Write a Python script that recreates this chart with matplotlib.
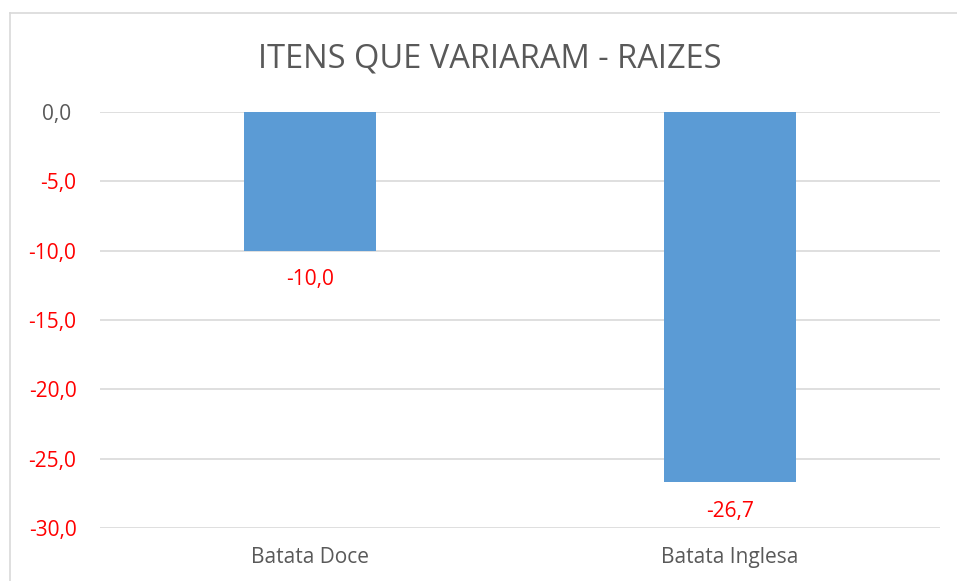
import matplotlib
matplotlib.use("Agg")
import matplotlib.pyplot as plt
from matplotlib.lines import Line2D

categories = ["Batata Doce", "Batata Inglesa"]
values = [-10.0, -26.7]
yticks = [0, -5, -10, -15, -20, -25, -30]

def fmt(v):
    s = f"{abs(v):.1f}".replace(".", ",")
    return ("-" + s) if v < 0 else (s + " ")

plt.rcParams['font.family'] = ['Open Sans', 'DejaVu Sans']

W, H = 957, 581
fig = plt.figure(figsize=(W / 100, H / 100), dpi=100)
ax = fig.add_axes([100 / W, 1 - 528 / H, 840 / W, 416 / H])

x = list(range(len(categories)))
bars = ax.bar(x, values, width=0.315, color="#5B9BD5", zorder=3)

ax.set_xlim(-0.5, len(categories) - 0.5)
ax.set_ylim(-30, 0)
ax.set_yticks(yticks)
ax.set_yticklabels([fmt(v) for v in yticks])
for lbl, v in zip(ax.get_yticklabels(), yticks):
    lbl.set_color("#FF0000" if v < 0 else "#595959")
    lbl.set_fontsize(15)
ax.tick_params(axis='y', length=0, pad=17)
ax.set_xticks(x)
ax.set_xticklabels(categories, fontsize=15, color="#595959")
ax.tick_params(axis='x', length=0, pad=14)

ax.grid(axis='y', color="#D9D9D9", linewidth=1.2, zorder=0)
ax.set_axisbelow(True)
for s in ax.spines.values():
    s.set_visible(False)

for xi, v in zip(x, values):
    ax.annotate(fmt(v), xy=(xi, v), xytext=(0, -21), textcoords="offset points",
                ha="center", va="center", color="#FF0000", fontsize=15)

fig.text(490 / W, 1 - 59 / H, "ITENS QUE VARIARAM - RAIZES", ha="center", va="center",
         fontsize=23.5, color="#595959")

# chart border (partially visible)
fig.add_artist(Line2D([9.5 / W, 9.5 / W], [0, 1 - 13 / H], transform=fig.transFigure,
                      color="#D9D9D9", linewidth=1.2))
fig.add_artist(Line2D([9.5 / W, 1], [1 - 13 / H, 1 - 13 / H], transform=fig.transFigure,
                      color="#D9D9D9", linewidth=1.2))

fig.savefig("out.png", dpi=100)
